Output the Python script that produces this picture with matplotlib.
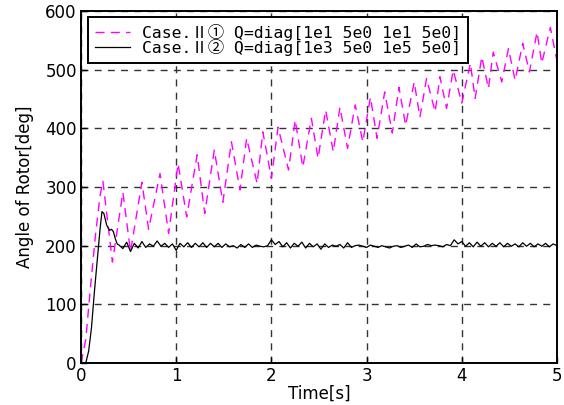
import numpy as np
import matplotlib
matplotlib.use("Agg")
import matplotlib.pyplot as plt

plt.rcParams['font.family'] = ['DejaVu Sans', 'Noto Sans CJK JP']

# Case II-1: rotor angle, turning points of the oscillating response
case1_t = [0.00, 0.05, 0.10, 0.15, 0.20, 0.23,
           0.33, 0.44, 0.52, 0.64, 0.71, 0.83, 0.92, 1.02, 1.11, 1.22, 1.30,
           1.40, 1.49, 1.58, 1.67, 1.74, 1.85, 1.91, 2.00, 2.07, 2.18, 2.25,
           2.33, 2.42, 2.49, 2.57, 2.65, 2.72, 2.80, 2.88, 2.96, 3.04, 3.11,
           3.19, 3.27, 3.34, 3.41, 3.50, 3.56, 3.63, 3.72, 3.77, 3.84, 3.91,
           4.00, 4.09, 4.14, 4.21, 4.28, 4.33, 4.42, 4.49, 4.56, 4.64, 4.71,
           4.79, 4.84, 4.93, 5.00]
case1_deg = [0, 40, 130, 215, 285, 310,
             172, 291, 190, 308, 228, 323, 221, 340, 249, 355, 255,
             363, 274, 377, 295, 383, 306, 394, 315, 402, 329, 414,
             334, 417, 349, 431, 360, 436, 366, 440, 377, 453, 383,
             462, 392, 470, 405, 479, 419, 485, 428, 488, 434, 499,
             443, 511, 451, 522, 468, 530, 479, 536, 482, 545, 496,
             564, 511, 572, 515]

# Case II-2: transient part
case2_t_start = [0.00, 0.05, 0.08, 0.11, 0.14, 0.17, 0.20, 0.22, 0.24,
                 0.27, 0.30, 0.32, 0.34, 0.36, 0.38]
case2_deg_start = [0, 0, 20, 60, 120, 175, 228, 258, 255,
                   235, 226, 228, 224, 212, 203]
# Case II-2: settled part, sampled every 0.04 s from 0.40 s to 5.00 s
case2_deg_settled = [
    201, 195, 206, 190, 204, 196, 207, 197, 203, 199,
    208, 199, 204, 197, 203, 192, 204, 198, 205, 197,
    204, 198, 205, 197, 204, 198, 204, 197, 203, 198,
    200, 196, 202, 197, 203, 197, 201, 199, 198, 200,
    210, 202, 207, 198, 205, 196, 204, 199, 206, 196,
    204, 198, 203, 194, 203, 197, 201, 199, 202, 196,
    205, 197, 200, 201, 199, 197, 201, 199, 197, 200,
    198, 196, 199, 200, 197, 199, 201, 197, 203, 198,
    199, 202, 200, 201, 200, 198, 202, 200, 210, 203,
    207, 199, 205, 198, 206, 199, 205, 198, 204, 199,
    205, 198, 204, 199, 203, 198, 205, 199, 204, 198,
    203, 199, 204, 198, 203, 200]
case2_t_settled = np.linspace(0.40, 5.00, len(case2_deg_settled))
case2_t = np.concatenate([case2_t_start, case2_t_settled])
case2_deg = np.concatenate([case2_deg_start, case2_deg_settled])

label1 = 'Case.Ⅱ① Q=diag[1e1 5e0 1e1 5e0]'
label2 = 'Case.Ⅱ② Q=diag[1e3 5e0 1e5 5e0]'
x_ticks = [0, 1, 2, 3, 4, 5]
y_ticks = [0, 100, 200, 300, 400, 500, 600]

fig = plt.figure(figsize=(5.64, 4.05), dpi=100)
ax = fig.add_axes([81 / 564, 1 - 363 / 405, 476 / 564, 352 / 405])

ax.plot(case1_t, case1_deg, color='#ff00ff', lw=1.0, linestyle=(0, (6.5, 4.5)),
        label=label1)
ax.plot(case2_t, case2_deg, color='black', lw=0.9, label=label2)

ax.set_xlim(0, 5)
ax.set_ylim(0, 600)
ax.set_xticks(x_ticks)
ax.set_yticks(y_ticks)
ax.grid(True, color='#333333', lw=1.0, linestyle=(0, (5, 4.5)))
ax.set_axisbelow(True)
ax.tick_params(direction='in', length=4, labelsize=12, pad=3, width=1)
for s in ax.spines.values():
    s.set_linewidth(1.4)

ax.set_xlabel('Time[s]', fontsize=12, labelpad=0)
ax.set_ylabel('Angle of Rotor[deg]', fontsize=12, labelpad=8)

leg = ax.legend(loc='upper left', bbox_to_anchor=(0.0147, 0.983), borderaxespad=0,
                prop={'family': ['DejaVu Sans Mono', 'Noto Sans CJK JP'], 'size': 11.8},
                frameon=True, fancybox=False, framealpha=1,
                handlelength=2.15, handletextpad=0.75, borderpad=0.4,
                labelspacing=-0.08)
leg.get_frame().set_edgecolor('black')
leg.get_frame().set_linewidth(1.4)

fig.savefig('out.png', dpi=100)
